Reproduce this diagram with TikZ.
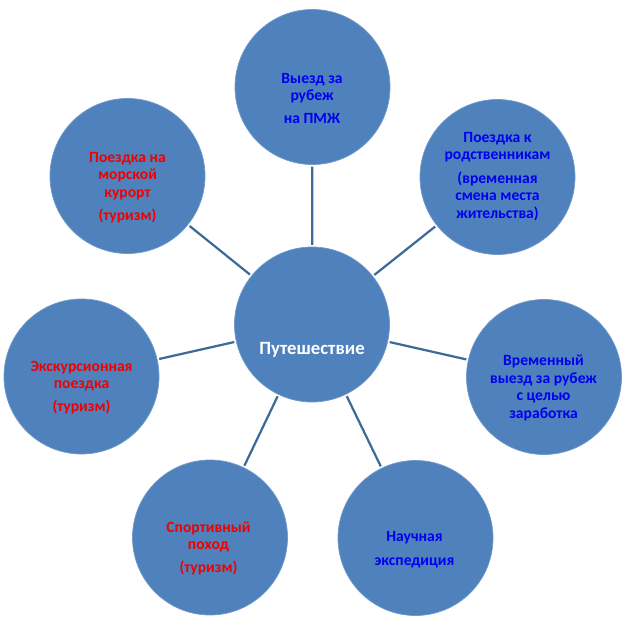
\documentclass[tikz,border=0pt]{standalone}
\usepackage{fontspec}
\setmainfont{Carlito}
\usepackage{tikz}
\usetikzlibrary{positioning}
\definecolor{ballblue}{HTML}{4F81BD}
\definecolor{spokeblue}{HTML}{3E6A9A}
\definecolor{txtblue}{HTML}{0000F0}
\definecolor{txtred}{HTML}{F00000}

\begin{document}
\begin{tikzpicture}[
  x=0.03cm, y=-0.03cm,
  ball/.style={
    circle, fill=ballblue, draw=ballblue!80!white, line width=0.6pt,
    minimum size=4.65cm, inner sep=0pt
  },
  txt/.style={
    font=\fontsize{13.3}{14.9}\selectfont\bfseries, align=center, inner sep=0pt
  },
  bluetxt/.style={txt, text=txtblue},
  redtxt/.style={txt, text=txtred},
  spoke/.style={draw=spokeblue, line width=1.9pt, shorten >=1.5pt, shorten <=1.5pt}
]
\useasboundingbox (0,0) rectangle (624,624);

% Circles
\node[ball] (trip) at (312,324.5) {};
\node[ball] (emig) at (312.5,87) {};
\node[ball] (kin) at (497.5,177) {};
\node[ball] (sea) at (127.5,176) {};
\node[ball] (excur) at (81.5,376.5) {};
\node[ball] (work) at (544,377) {};
\node[ball] (hike) at (210,537.5) {};
\node[ball] (sci) at (415.5,538) {};

% Spokes
\foreach \n in {emig,kin,sea,excur,work,hike,sci}
  \draw[spoke] (trip) -- (\n);

% Texts
\node[txt, text=white, font=\fontsize{16}{18}\selectfont\bfseries]
  (tripT) at (312,350) {Путешествие};
\node[bluetxt] (emigT) at (312,98.5) {Выезд за\\рубеж\\[5pt]на ПМЖ};
\node[bluetxt] (kinT) at (497.5,176.5)
  {Поездка к\\родственникам\\[5pt](временная\\смена места\\жительства)};
\node[redtxt] (seaT) at (127.5,187.5)
  {Поездка на\\морской\\курорт\\[5pt](туризм)};
\node[redtxt] (excurT) at (81.5,387.5) {Экскурсионная\\поездка\\[5pt](туризм)};
\node[bluetxt] (workT) at (543.5,388)
  {Временный\\выезд за рубеж\\с целью\\заработка};
\node[redtxt] (hikeT) at (208.5,548.5) {Спортивный\\поход\\[5pt](туризм)};
\node[bluetxt] (sciT) at (414.5,549.5) {Научная\\[6pt]экспедиция};

\end{tikzpicture}
\end{document}
